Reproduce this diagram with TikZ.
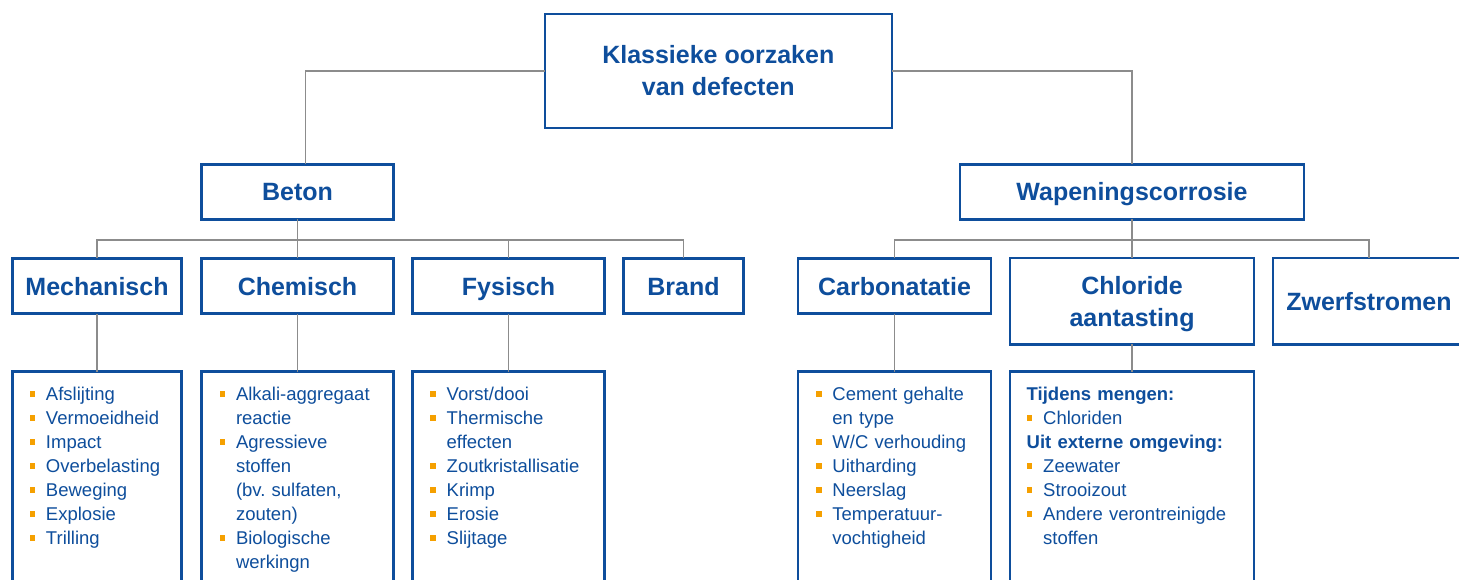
\documentclass[tikz,border=0pt]{standalone}
\usepackage{fontspec}
\setmainfont{Liberation Sans}
\definecolor{dblue}{RGB}{14,78,156}
\definecolor{lgray}{RGB}{140,140,140}
\definecolor{borange}{RGB}{245,160,0}
\newcommand{\bmark}{\makebox[16.5pt][l]{\textcolor{borange}{\rule[3.8pt]{5.7pt}{5.7pt}}}}
\newcommand{\bfirst}[1]{\hangindent=16.5pt\hangafter=1\noindent\bmark#1}
\newcommand{\bitem}[1]{\par\hangindent=16.5pt\hangafter=1\noindent\bmark#1}
\newcommand{\bheadfirst}[1]{\noindent\textbf{#1}}
\newcommand{\bhead}[1]{\par\noindent\textbf{#1}}
\tikzset{
  box/.style={draw=dblue, line width=2.6pt, text=dblue, outer sep=0pt, inner sep=0pt, rectangle,
    font=\fontsize{25}{32}\selectfont\bfseries, align=center},
  onebox/.style={box, text height=18pt, text depth=0pt},
  listbox/.style={draw=dblue, line width=2.6pt, outer sep=0pt, inner sep=0pt, rectangle,
    anchor=north west, minimum height=260pt},
  listtext/.style={text=dblue, font=\fontsize{18.5}{24}\selectfont, text width=260pt,
    anchor=base west, inner sep=0pt, align=left},
  conn/.style={draw=lgray, line width=1.4pt},
}
\begin{document}
\begin{tikzpicture}[x=1pt,y=-1pt]
\useasboundingbox (0,0) rectangle (1459,580);
\fill[white] (0,0) rectangle (1459,580);
\clip (0,0) rectangle (1459,580);

% level 1
\node[box, minimum width=347pt, minimum height=114pt] (top) at (718.3,71) {Klassieke oorzaken\\van defecten};
% level 2
\node[onebox, minimum width=192pt, minimum height=55pt] (beton) at (297.5,192) {Beton};
\node[onebox, minimum width=344pt, minimum height=55pt] (wap) at (1132,192) {Wapeningscorrosie};
% level 3
\node[onebox, minimum width=169pt, minimum height=55.5pt] (mech) at (97,286) {Mechanisch};
\node[onebox, minimum width=192pt, minimum height=55.5pt] (chem) at (297.5,286) {Chemisch};
\node[onebox, minimum width=192pt, minimum height=55.5pt] (fys) at (508.5,286) {Fysisch};
\node[onebox, minimum width=120pt, minimum height=55.5pt] (brand) at (683.5,286) {Brand};
\node[onebox, minimum width=193pt, minimum height=55.5pt] (carb) at (894.5,286) {Carbonatatie};
\node[box, minimum width=244pt, minimum height=86.5pt] (chlor) at (1132,301.2) {Chloride\\\smash{aantasting}};
\node[onebox, minimum width=192pt, minimum height=86.5pt] (zwerf) at (1369,301.2) {Zwerfstromen};

% list boxes
\node[listbox, minimum width=169pt] (mechL) at (12.5,371.5) {};
\node[listbox, minimum width=192pt] (chemL) at (201.5,371.5) {};
\node[listbox, minimum width=192pt] (fysL) at (412.5,371.5) {};
\node[listbox, minimum width=193pt] (carbL) at (798,371.5) {};
\node[listbox, minimum width=244pt] (chlorL) at (1010,371.5) {};

% list texts
\node[listtext] (mechT) at ([xshift=16.8pt,yshift=-29pt]mechL.north west) {%
\bfirst{Afslijting}\bitem{Vermoeidheid}\bitem{Impact}\bitem{Overbelasting}\bitem{Beweging}\bitem{Explosie}\bitem{Trilling}\par};
\node[listtext] (chemT) at ([xshift=17.8pt,yshift=-29pt]chemL.north west) {%
\bfirst{Alkali-aggregaat\newline reactie}\bitem{Agressieve\newline stoffen\newline (bv.\ sulfaten,\newline zouten)}\bitem{Biologische\newline werkingn}\par};
\node[listtext] (fysT) at ([xshift=17.5pt,yshift=-29pt]fysL.north west) {%
\bfirst{Vorst/dooi}\bitem{Thermische\newline effecten}\bitem{Zoutkristallisatie}\bitem{Krimp}\bitem{Erosie}\bitem{Slijtage}\par};
\node[listtext] (carbT) at ([xshift=17.7pt,yshift=-29pt]carbL.north west) {%
\bfirst{Cement gehalte\newline en type}\bitem{W/C verhouding}\bitem{Uitharding}\bitem{Neerslag}\bitem{Temperatuur-\newline vochtigheid}\par};
\node[listtext] (chlorT) at ([xshift=16.5pt,yshift=-29pt]chlorL.north west) {%
\bheadfirst{Tijdens mengen:}\bitem{Chloriden}\bhead{Uit externe omgeving:}\bitem{Zeewater}\bitem{Strooizout}\bitem{Andere verontreinigde\newline stoffen}\par};

% connectors
\coordinate (bus) at (0,240);
\draw[conn] (top.west) -| ([xshift=8.2pt]beton.north);
\draw[conn] (top.east) -| (wap.north);
\draw[conn] (mech.north) |- (brand.north |- bus) -- (brand.north);
\draw[conn] (beton.south) -- (chem.north);
\draw[conn] (fys.north) -- (fys.north |- bus);
\draw[conn] (carb.north) |- (zwerf.north |- bus) -- (zwerf.north);
\draw[conn] (wap.south) -- (chlor.north);
\draw[conn] (mech.south) -- (mechL.north);
\draw[conn] (chem.south) -- (chemL.north);
\draw[conn] (fys.south) -- (fysL.north);
\draw[conn] (carb.south) -- (carbL.north);
\draw[conn] (chlor.south) -- (chlorL.north);
\end{tikzpicture}
\end{document}
